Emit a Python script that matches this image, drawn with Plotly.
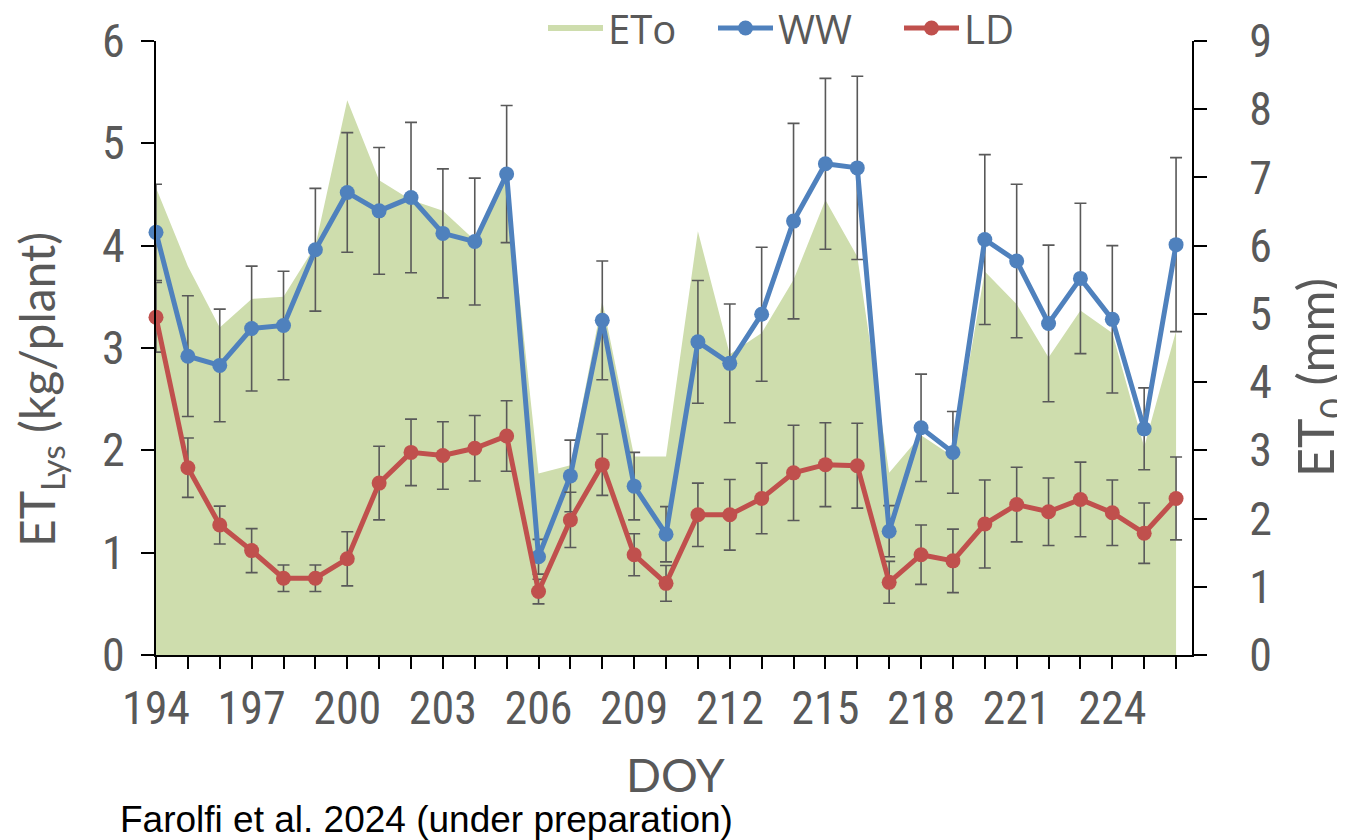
import plotly.graph_objects as go

doy = list(range(194, 227))

eto = [6.85, 5.70, 4.80, 5.22, 5.25, 6.00, 8.13, 6.96, 6.67, 6.51, 6.08, 7.00,
       2.66, 2.78, 5.19, 2.91, 2.91, 6.21, 4.41, 4.72, 5.50, 6.67, 5.84,
       2.67, 3.22, 2.91, 5.62, 5.14, 4.36, 5.05, 4.72, 3.05, 4.75]

ww = [4.13, 2.92, 2.83, 3.19, 3.22, 3.96, 4.52, 4.34, 4.47, 4.12, 4.04, 4.70,
      0.96, 1.75, 3.27, 1.65, 1.18, 3.06, 2.85, 3.33, 4.24, 4.80, 4.76,
      1.21, 2.22, 1.98, 4.06, 3.85, 3.24, 3.68, 3.28, 2.21, 4.01]
ww_err = [0.47, 0.59, 0.55, 0.61, 0.53, 0.60, 0.585, 0.62, 0.735, 0.63, 0.62, 0.67,
          0.17, 0.35, 0.58, 0.33, 0.27, 0.60, 0.58, 0.655, 0.955, 0.835, 0.895,
          0.25, 0.525, 0.40, 0.83, 0.75, 0.765, 0.735, 0.72, 0.40, 0.85]

ld = [3.30, 1.83, 1.27, 1.02, 0.75, 0.75, 0.94, 1.68, 1.98, 1.95, 2.02, 2.14,
      0.62, 1.32, 1.86, 0.98, 0.70, 1.37, 1.37, 1.53, 1.78, 1.86, 1.85,
      0.71, 0.98, 0.92, 1.28, 1.47, 1.40, 1.52, 1.39, 1.19, 1.53]
ld_err = [0.34, 0.29, 0.185, 0.215, 0.13, 0.13, 0.265, 0.36, 0.325, 0.33, 0.32, 0.345,
          0.12, 0.27, 0.30, 0.205, 0.175, 0.31, 0.345, 0.345, 0.465, 0.41, 0.415,
          0.205, 0.29, 0.31, 0.43, 0.365, 0.33, 0.365, 0.32, 0.295, 0.405]

GRAY = "#595959"
TICKFONT = "Liberation Sans Narrow, Arial Narrow, Roboto Condensed, Roboto, sans-serif"
TITLEFONT = "Lato, Open Sans, sans-serif"
LEGFONT = "Open Sans, Lato, sans-serif"

# plot area in figure pixels (page has ~8px body offset)
L, T, W, H = 148, 33, 1036, 614
FIG_W, FIG_H = 1337, 832


def px(xp):
    return (xp - 8 - L) / W


def py(yp):
    return (T + H - (yp - 8)) / H


fig = go.Figure()

fig.add_trace(go.Scatter(
    x=doy, y=eto, name="ETo", mode="none", fill="tozeroy",
    fillcolor="rgb(206,221,173)", yaxis="y", hoverinfo="skip", legend="legend"))

err_style = dict(type="data", visible=True, color=GRAY, thickness=1.6, width=6)

fig.add_trace(go.Scatter(
    x=doy, y=ww, name="WW", mode="lines+markers", yaxis="y2", legend="legend2",
    line=dict(color="#4f81bd", width=5),
    marker=dict(color="#4f81bd", size=15),
    error_y=dict(array=ww_err, **err_style), cliponaxis=False))

fig.add_trace(go.Scatter(
    x=doy, y=ld, name="LD", mode="lines+markers", yaxis="y2", legend="legend3",
    line=dict(color="#c0504d", width=5),
    marker=dict(color="#c0504d", size=15),
    error_y=dict(array=ld_err, **err_style), cliponaxis=False))

leg_common = dict(orientation="h", xanchor="left", yanchor="middle", y=py(28),
                  font=dict(size=40, color=GRAY, family=LEGFONT),
                  bgcolor="rgba(0,0,0,0)", itemwidth=55)

fig.update_layout(
    width=FIG_W, height=FIG_H,
    margin=dict(l=L, r=FIG_W - L - W, t=T, b=FIG_H - T - H, autoexpand=False),
    paper_bgcolor="white", plot_bgcolor="white",
    font=dict(family=TICKFONT, color=GRAY),
    showlegend=True,
    legend=dict(x=px(543), **leg_common),
    legend2=dict(x=px(713), **leg_common),
    legend3=dict(x=px(899), **leg_common),
    xaxis=dict(range=[194, 226.5], tick0=194, dtick=3, showgrid=False, zeroline=False,
               automargin=False,
               showline=True, linecolor="black", linewidth=2,
               ticks="outside", ticklen=12, tickwidth=2, tickcolor="black",
               tickfont=dict(size=46, color=GRAY),
               minor=dict(dtick=1, tick0=194, ticks="outside", ticklen=12, tickwidth=2,
                          tickcolor="black", showgrid=False)),
    yaxis=dict(side="right", range=[0, 9], dtick=1, showgrid=False, zeroline=False,
               automargin=False,
               showline=True, linecolor="black", linewidth=2,
               ticks="outside", ticklen=13, tickwidth=2, tickcolor="black",
               ticklabelstandoff=33,
               tickfont=dict(size=46, color=GRAY)),
    yaxis2=dict(side="left", overlaying="y", range=[0, 6], dtick=1, showgrid=False,
                automargin=False,
                zeroline=False, showline=True, linecolor="black", linewidth=2,
                ticks="outside", ticklen=13, tickwidth=2, tickcolor="black",
                ticklabelstandoff=7,
                tickfont=dict(size=46, color=GRAY)),
    annotations=[
        dict(text="ET<sub>Lys</sub> (kg/plant)", xref="paper", yref="paper",
             x=px(40), y=py(390), xanchor="center", yanchor="middle", textangle=-90,
             showarrow=False, font=dict(family=TITLEFONT, size=48, color=GRAY)),
        dict(text="ET<sub>0</sub> (mm)", xref="paper", yref="paper",
             x=px(1318), y=py(378), xanchor="center", yanchor="middle", textangle=-90,
             showarrow=False, font=dict(family=TITLEFONT, size=50, color=GRAY)),
        dict(text="DOY", xref="paper", yref="paper",
             x=px(675), y=py(774), xanchor="center", yanchor="middle",
             showarrow=False, font=dict(family=TITLEFONT, size=46, color=GRAY)),
        dict(text="Farolfi et al. 2024 (under preparation)", xref="paper", yref="paper",
             x=px(118), y=py(820), xanchor="left", yanchor="middle",
             showarrow=False,
             font=dict(family="Liberation Sans, Arial, sans-serif", size=37, color="black")),
    ],
)

fig.write_html("out.html")
